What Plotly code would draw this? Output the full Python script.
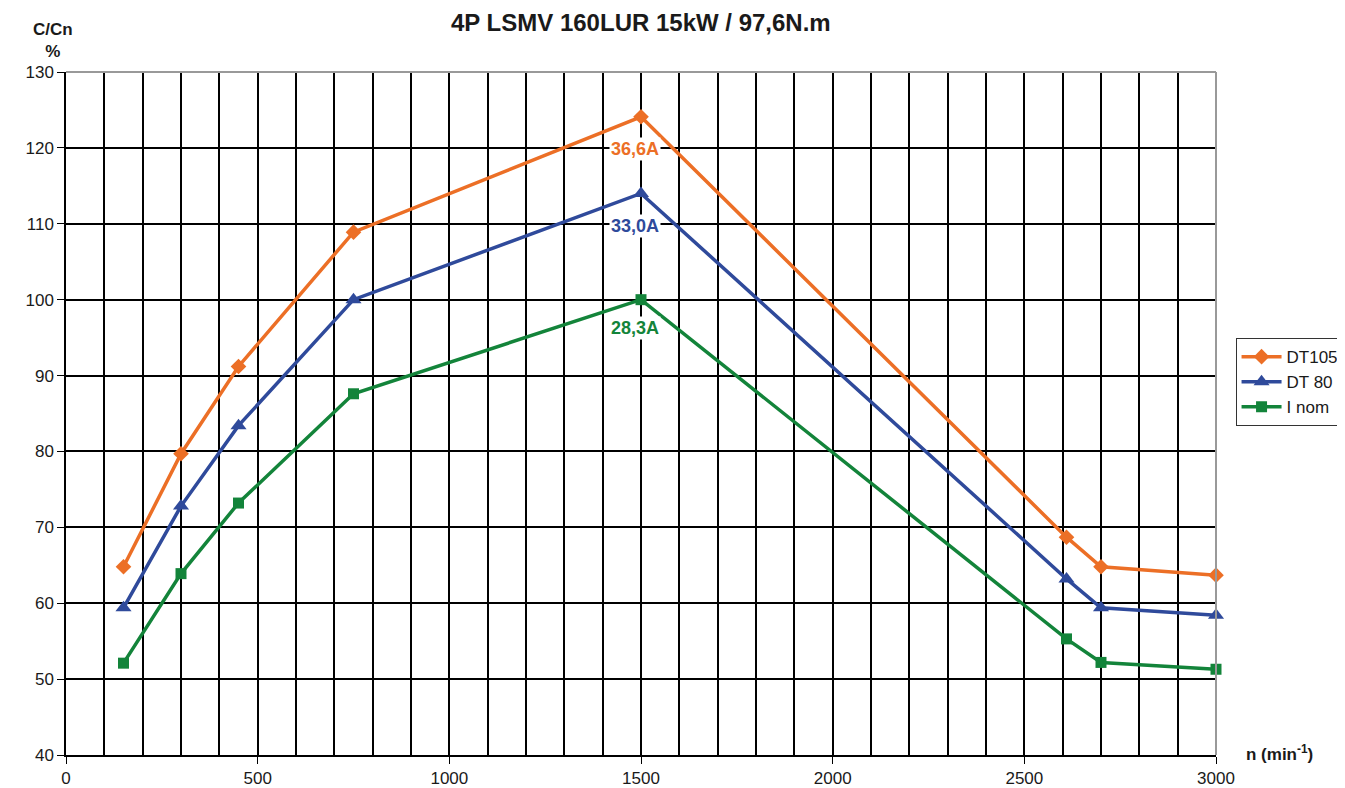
import plotly.graph_objects as go

title_text = "4P LSMV 160LUR 15kW / 97,6N.m"
speed = [150, 300, 450, 750, 1500, 2610, 2700, 3000]
dt105 = [64.8, 79.7, 91.2, 108.9, 124.1, 68.7, 64.8, 63.7]
dt80 = [59.4, 72.8, 83.4, 100.0, 114.0, 63.2, 59.4, 58.4]
inom = [52.1, 63.9, 73.2, 87.6, 100.0, 55.3, 52.2, 51.3]
series_names = ["DT105", "DT 80", "I nom"]
peak_labels = ["36,6A", "33,0A", "28,3A"]
peak_label_x = [1500, 1500, 1500]
peak_label_y = [119.8, 109.7, 96.3]

colors = ["#EC6F26", "#2F4A9B", "#13843A"]
symbols = ["diamond", "triangle-up", "square"]
msizes = [12, 14, 11]
FONT = "Liberation Sans, Arial, sans-serif"

fig = go.Figure()
for name, ys, c, s, ms in zip(series_names, [dt105, dt80, inom], colors, symbols, msizes):
    fig.add_trace(go.Scatter(x=speed, y=ys, name=name, mode="lines+markers",
                             line=dict(color=c, width=3.5),
                             marker=dict(symbol=s, size=ms, color=c),
                             cliponaxis=False))

for txt, lx, ly, c in zip(peak_labels, peak_label_x, peak_label_y, colors):
    fig.add_annotation(x=lx, y=ly, text="<b>%s</b>" % txt, showarrow=False, xshift=-6,
                       font=dict(family=FONT, size=18, color=c),
                       bgcolor="white", borderpad=1)

fig.add_annotation(xref="paper", yref="paper", x=0.5, y=1, yshift=50, yanchor="middle",
                   text="<b>%s</b>" % title_text, showarrow=False,
                   font=dict(family=FONT, size=24, color="#1a1a1a"))
fig.add_annotation(xref="paper", yref="paper", x=-0.0305, y=1, yshift=32, yanchor="middle",
                   text="<b>C/Cn<br>%</b>", showarrow=False, align="center",
                   font=dict(family=FONT, size=17, color="#1a1a1a"))
fig.add_annotation(xref="paper", yref="paper", x=1.055, y=0, xanchor="center", yshift=2, yanchor="middle",
                   text="<b>n (min<sup>-1</sup>)</b>", showarrow=False,
                   font=dict(family=FONT, size=17, color="#1a1a1a"))

# top and right border in gray
fig.add_shape(type="line", xref="paper", yref="paper", x0=0, x1=1, y0=1, y1=1,
              line=dict(color="#999999", width=2))
fig.add_shape(type="line", xref="paper", yref="paper", x0=1, x1=1, y0=0, y1=1,
              line=dict(color="#999999", width=2))

fig.update_layout(
    width=1345, height=788,
    margin=dict(l=58, r=137, t=64, b=41, autoexpand=False),
    plot_bgcolor="white", paper_bgcolor="white",
    font=dict(family=FONT, size=17, color="#1a1a1a"),
    showlegend=True,
    legend=dict(x=1.017, xanchor="left", y=0.546, yanchor="middle",
                bordercolor="#333333", borderwidth=1, bgcolor="white",
                font=dict(family=FONT, size=17, color="#1a1a1a"),
                tracegroupgap=0, itemwidth=40),
)

fig.update_xaxes(range=[0, 3000], dtick=500, tick0=0, showgrid=True, gridcolor="black", gridwidth=1.5,
                 minor=dict(dtick=100, showgrid=True, gridcolor="black", gridwidth=1.5),
                 showline=True, linecolor="black", linewidth=1.5, automargin=False,
                 ticks="outside", ticklen=7, tickcolor="black",
                 tickfont=dict(size=17), zeroline=False)
fig.update_yaxes(range=[40, 130], dtick=10, showgrid=True, gridcolor="black", gridwidth=1.5,
                 showline=True, linecolor="black", linewidth=1.5, automargin=False,
                 ticks="outside", ticklen=7, tickcolor="black",
                 tickfont=dict(size=17), zeroline=False)

fig.write_html("out.html")
